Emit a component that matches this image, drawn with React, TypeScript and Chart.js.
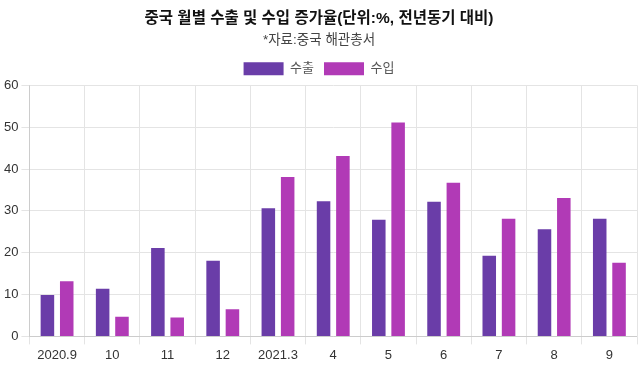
import React, { useEffect, useRef } from "react";
import { Chart, registerables } from "chart.js";

Chart.register(...registerables);

const categories = ["2020.9", "10", "11", "12", "2021.3", "4", "5", "6", "7", "8", "9"];
const exportValues = [9.9, 11.4, 21.1, 18.1, 30.6, 32.3, 27.9, 32.2, 19.3, 25.6, 28.1];
const importValues = [13.2, 4.7, 4.5, 6.5, 38.1, 43.1, 51.1, 36.7, 28.1, 33.1, 17.6];
const seriesNames = ["수출", "수입"];
const titleText = "중국 월별 수출 및 수입 증가율(단위:%, 전년동기 대비)";
const subtitleText = "*자료:중국 해관총서";

const FONT = "'Liberation Sans', Arial, 'Noto Sans CJK KR', sans-serif";

export default function App() {
  const ref = useRef<HTMLCanvasElement | null>(null);
  useEffect(() => {
    if (!ref.current) return;
    const chart = new Chart(ref.current, {
      type: "bar",
      data: {
        labels: categories,
        datasets: [
          {
            label: seriesNames[0],
            data: exportValues,
            backgroundColor: "#6a3da8",
            borderColor: "#6a3da8",
            barPercentage: 0.7,
            categoryPercentage: 0.7,
          },
          {
            label: seriesNames[1],
            data: importValues,
            backgroundColor: "#b13ab6",
            borderColor: "#b13ab6",
            barPercentage: 0.7,
            categoryPercentage: 0.7,
          },
        ],
      },
      options: {
        animation: false,
        responsive: true,
        maintainAspectRatio: false,
        layout: { padding: { left: 1, right: 3, top: 0, bottom: 0 } },
        plugins: {
          title: {
            display: true,
            text: titleText,
            color: "#111",
            font: { family: FONT, size: 15.5, weight: "bold" },
            padding: { top: 9, bottom: 4.5 },
          },
          subtitle: {
            display: true,
            text: subtitleText,
            color: "#444",
            font: { family: FONT, size: 13.5 },
            padding: { top: 0, bottom: 4 },
          },
          legend: {
            display: true,
            labels: {
              color: "#555",
              font: { family: FONT, size: 13 },
              boxWidth: 40,
              boxHeight: 13,
            },
          },
          tooltip: { enabled: false },
        },
        scales: {
          x: {
            grid: { color: "#e4e4e4" },
            ticks: { color: "#333", font: { family: FONT, size: 13 } },
          },
          y: {
            min: 0,
            max: 60,
            ticks: { stepSize: 10, color: "#333", font: { family: FONT, size: 13 } },
            grid: { color: "#e4e4e4" },
          },
        },
      },
    });
    return () => chart.destroy();
  }, []);
  return (
    <div style={{ position: "absolute", left: 0, top: 0, width: 640, height: 366, background: "#fff" }}>
      <canvas ref={ref} />
    </div>
  );
}
